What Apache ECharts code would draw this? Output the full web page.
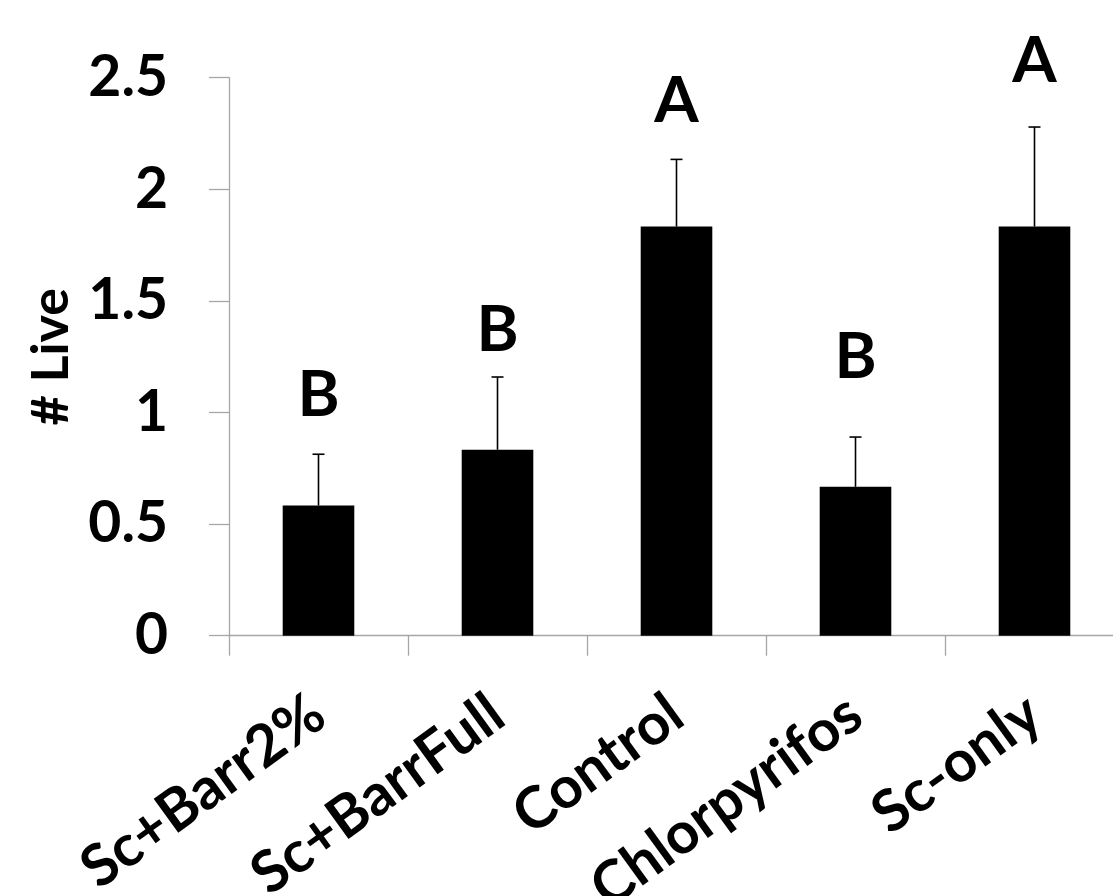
<!DOCTYPE html>
<html>
<head>
<meta charset="utf-8">
<script src="https://cdn.jsdelivr.net/npm/echarts@6/dist/echarts.min.js"></script>
<style>
  html, body { margin: 0; padding: 0; background: #fff; }
  #chart { width: 1113px; height: 896px; }
</style>
</head>
<body>
<div id="chart"></div>
<script>
// Treatments and mean number of live insects (± standard error)
const categories = ['Sc+Barr2%', 'Sc+BarrFull', 'Control', 'Chlorpyrifos', 'Sc-only'];
const meanLive = [0.583, 0.833, 1.833, 0.667, 1.833];
const stdErr = [0.23, 0.326, 0.301, 0.223, 0.446];
// Significance groups and the height (in # Live units) where each letter sits
const groupLetters = ['B', 'B', 'A', 'B', 'A'];
const letterY = [1.076, 1.37, 2.393, 1.246, 2.575];
const yTicks = { min: 0, max: 2.5, step: 0.5 };

const FONT = 'Lato';
const AXIS_GREY = '#a6a6a6';

const errData = categories.map((c, i) => [i, meanLive[i], meanLive[i] + stdErr[i]]);
const letterData = categories.map((c, i) => ({ value: [i, letterY[i]], letter: groupLetters[i] }));

const chart = echarts.init(document.getElementById('chart'), null, { renderer: 'canvas' });

chart.setOption({
  animation: false,
  backgroundColor: '#ffffff',
  grid: {
    left: 229, right: -11, top: 77.7, bottom: 260.3,
    containLabel: false,
    outerBoundsMode: 'none'
  },
  xAxis: {
    type: 'category',
    data: categories,
    axisLine: { show: true, lineStyle: { color: AXIS_GREY, width: 1.3 } },
    axisTick: { show: true, length: 20, alignWithLabel: false, lineStyle: { color: AXIS_GREY, width: 1.3 } },
    axisLabel: {
      interval: 0,
      rotate: 36,
      margin: 72,
      color: '#000',
      fontFamily: FONT,
      fontWeight: 'bold',
      fontSize: 58
    },
    splitLine: { show: false }
  },
  yAxis: {
    type: 'value',
    min: yTicks.min,
    max: yTicks.max,
    interval: yTicks.step,
    name: '# Live',
    nameLocation: 'middle',
    nameRotate: 90,
    nameGap: 152,
    nameTextStyle: { color: '#000', fontFamily: FONT, fontWeight: 'bold', fontSize: 52 },
    axisLine: { show: true, lineStyle: { color: AXIS_GREY, width: 1.3 } },
    axisTick: { show: true, length: 20, inside: false, lineStyle: { color: AXIS_GREY, width: 1.3 } },
    axisLabel: { margin: 61, color: '#000', fontFamily: FONT, fontWeight: 'bold', fontSize: 57 },
    splitLine: { show: false }
  },
  series: [
    {
      type: 'bar',
      data: meanLive,
      barWidth: '40%',
      itemStyle: { color: '#000000' }
    },
    {
      // upper standard-error whiskers with caps
      type: 'custom',
      data: errData,
      z: 5,
      renderItem: function (params, api) {
        const x = api.value(0);
        const base = api.coord([x, api.value(1)]);
        const top = api.coord([x, api.value(2)]);
        const half = 6;
        const style = { stroke: '#000', lineWidth: 1.6, fill: null };
        return {
          type: 'group',
          children: [
            { type: 'line', shape: { x1: top[0], y1: base[1], x2: top[0], y2: top[1] }, style: style },
            { type: 'line', shape: { x1: top[0] - half, y1: top[1], x2: top[0] + half, y2: top[1] }, style: style }
          ]
        };
      }
    },
    {
      // significance letters
      type: 'scatter',
      data: letterData,
      symbolSize: 0,
      clip: false,
      z: 6,
      itemStyle: { opacity: 1 },
      label: {
        show: true,
        position: 'inside',
        formatter: p => p.data.letter,
        color: '#000',
        opacity: 1,
        fontFamily: FONT,
        fontWeight: 'bold',
        fontSize: 64
      }
    }
  ]
});
</script>
</body>
</html>
